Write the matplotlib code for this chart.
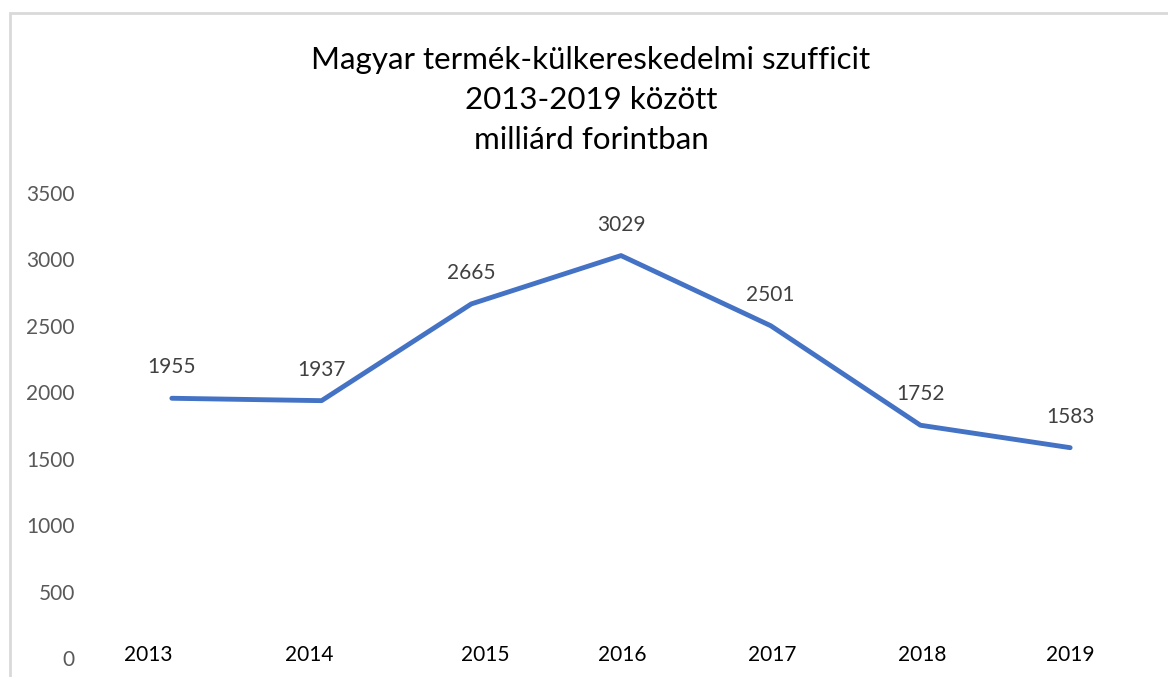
import matplotlib
matplotlib.use("Agg")
import matplotlib.pyplot as plt
from matplotlib.patches import Rectangle
from matplotlib.transforms import ScaledTranslation

plt.rcParams['font.family'] = ['Lato', 'DejaVu Sans']

years = ['2013', '2014', '2015', '2016', '2017', '2018', '2019']
values = [1955, 1937, 2665, 3029, 2501, 1752, 1583]
yticks = [0, 500, 1000, 1500, 2000, 2500, 3000, 3500]
title = 'Magyar termék-külkereskedelmi szufficit\n2013-2019 között\nmilliárd forintban'

# Excel-ish misplaced category labels (pixel shifts)
label_shift = [-24, -12, 14, 1, 2, 2, 0]

fig = plt.figure(figsize=(11.68, 6.77), dpi=100)
fig.patch.set_facecolor('white')

# chart area border (only top/left visible)
fig.patches.append(Rectangle((10 / 1168, -0.2), 1.5, 1 - 13 / 677 + 0.2,
                             transform=fig.transFigure, fill=False,
                             edgecolor='#d9d9d9', lw=2))

ax = fig.add_axes([97 / 1168, 19 / 677, (1145 - 97) / 1168, (658 - 193) / 677])
x = list(range(len(years)))
ax.plot(x, values, color='#4472C4', lw=3.5, solid_joinstyle='round',
        solid_capstyle='round')

for xi, v in zip(x, values):
    ax.annotate(str(v), (xi, v), xytext=(0, 31), textcoords='offset pixels',
                ha='center', va='center', fontsize=15, color='#404040')

ax.set_xlim(-0.5, 6.5)
ax.set_ylim(0, 3500)
ax.set_yticks(yticks)
ax.set_yticklabels([str(t) for t in yticks], color='#595959', fontsize=15)
ax.set_xticks(x)
ax.set_xticklabels(years, fontsize=15, color='black', va='center')
ax.tick_params(axis='both', length=0)
ax.tick_params(axis='y', pad=16)
ax.tick_params(axis='x', pad=0)
for lab, dx in zip(ax.get_xticklabels(), label_shift):
    lab.set_transform(lab.get_transform() +
                      ScaledTranslation(dx / 100, 3 / 100, fig.dpi_scale_trans))
for s in ax.spines.values():
    s.set_visible(False)
ax.set_facecolor('none')

fig.text(591 / 1168, 1 - 100 / 677, title, ha='center', va='center',
         fontsize=22.5, linespacing=1.52, color='black')

fig.savefig('out.png', dpi=100, facecolor='white')
